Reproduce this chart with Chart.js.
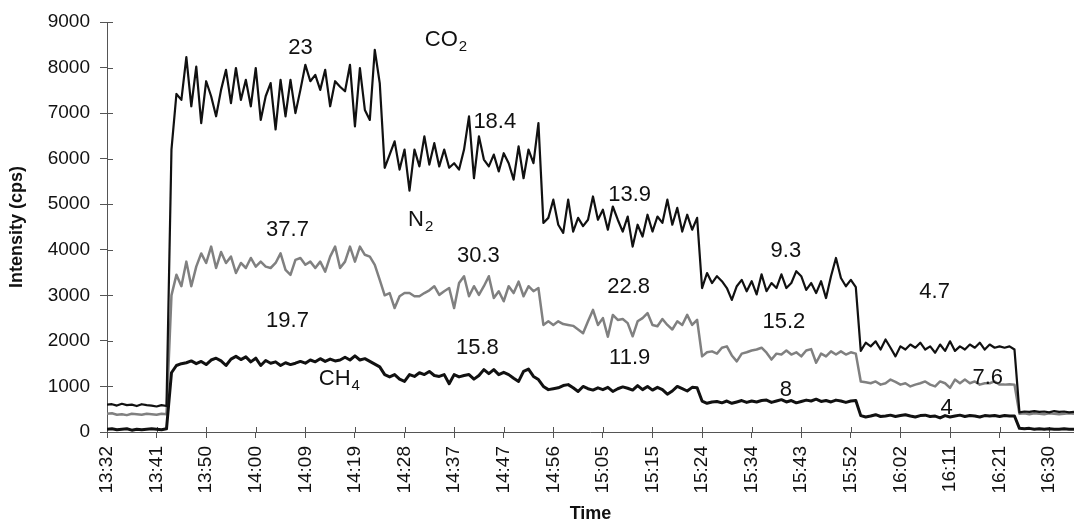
<!DOCTYPE html>
<html>
<head>
<meta charset="utf-8">
<script src="https://cdn.jsdelivr.net/npm/chart.js@4"></script>
<style>
    html, body { margin: 0; padding: 0; background: #fff; }
    #wrap { width: 1080px; height: 528px; }
</style>
</head>
<body>
<div id="wrap"><canvas id="chart" width="1080" height="528"></canvas></div>
<script>
(function () {
    'use strict';

    // x axis: one label every 10 samples
    var tickLabels = ['13:32', '13:41', '13:50', '14:00', '14:09', '14:19', '14:28', '14:37', '14:47', '14:56',
        '15:05', '15:15', '15:24', '15:34', '15:43', '15:52', '16:02', '16:11', '16:21', '16:30'];
    var samplesPerTick = 10;

    // Intensity (cps)
    var co2 = [
        600, 610, 580, 620, 590, 600, 570, 610, 590, 580, 560, 590, 570,
        6200,
        7420, 7290, 8230, 7150, 8020, 6780, 7700, 7370, 6930, 7510, 7950, 7220, 7990, 7290, 7730, 7150, 7990, 6850, 7370, 7660, 6640,
        7730, 6930, 7730, 7000, 7510, 8060, 7700, 7840, 7510, 7950, 7150, 7700, 7580, 7480, 8060, 6710, 7990, 7070, 6850, 8390, 7660,
        5800, 6090, 6380, 5760, 6200, 5300, 6200, 5830, 6490, 5870, 6340, 5830, 6200, 5800, 5900, 5760,
        6200, 6930, 5570, 6490, 5980, 5830, 6090, 5720, 6120, 5900, 5540, 6270, 5570, 6200, 5900, 6780,
        4590, 4700, 5100, 4550, 4370, 5100, 4400, 4700, 4520, 4660, 5170, 4660, 4880, 4440, 4950, 4660,
        4400, 4730, 4070, 4550, 4290, 4770, 4400, 4730, 4590, 5100, 4550, 4920, 4400, 4770, 4440, 4700,
        3160, 3490, 3270, 3420, 3310, 3160, 2900, 3200, 3340, 3090, 3310, 3020, 3460, 3090, 3270, 3160,
        3460, 3160, 3270, 3530, 3420, 3120, 3270, 3050, 3310, 2940, 3420, 3820, 3380, 3200, 3340, 3180,
        1780, 1960, 1880, 1990, 1810, 2030, 1850, 1660, 1880, 1810, 1920, 1850, 1960, 1810, 1880, 1740,
        1920, 1780, 1990, 1780, 1880, 1810, 1920, 1850, 1960, 1810, 1920, 1850, 1880, 1850, 1880, 1810,
        430, 450, 440, 460, 440, 450, 430, 460, 440, 450, 430, 440
    ];
    var n2 = [
        400, 410, 380, 390, 370, 400, 390, 380, 400, 390, 380, 400, 390,
        3000,
        3450, 3200, 3740, 3200, 3630, 3920, 3710, 4070, 3600, 3950, 3710, 3850, 3490, 3710, 3600, 3820, 3630, 3740, 3630, 3600, 3710,
        3920, 3560, 3450, 3780, 3820, 3670, 3740, 3600, 3740, 3520, 3850, 4070, 3600, 3740, 4070, 3740, 4070, 3890, 3850, 3670, 3340,
        3000, 3050, 2720, 2980, 3050, 3050, 2980, 2980, 3050, 3110, 3200, 3010, 3090, 3160, 2720, 3270,
        3420, 2980, 3200, 3010, 3200, 3420, 2940, 3090, 2870, 3200, 3050, 3300, 2980, 3200, 3090, 3160,
        2350, 2430, 2350, 2430, 2370, 2350, 2330, 2250, 2170, 2430, 2680, 2350, 2500, 2090, 2570, 2460,
        2480, 2390, 2100, 2430, 2500, 2610, 2350, 2320, 2480, 2350, 2250, 2430, 2350, 2570, 2350, 2460,
        1660, 1750, 1770, 1720, 1850, 1880, 1680, 1550, 1720, 1750, 1790, 1810, 1850, 1740, 1590, 1720,
        1700, 1790, 1700, 1750, 1660, 1790, 1820, 1520, 1720, 1660, 1770, 1700, 1770, 1700, 1750, 1720,
        1110, 1090, 1070, 1110, 1040, 1070, 1150, 1100, 1040, 1070, 1000, 1040, 1070, 1110, 1040, 1000,
        1110, 1070, 970, 1150, 1070, 1150, 1070, 1110, 1040, 1070, 1070, 1110, 1040, 1040, 1050, 1040,
        400, 410, 390, 410, 400, 390, 410, 400, 390, 400, 410, 400
    ];
    var ch4 = [
        60, 70, 50, 60, 70, 40, 60, 50, 60, 70, 60, 50, 70,
        1300,
        1460, 1500, 1520, 1560, 1500, 1550, 1480, 1580, 1620, 1560, 1460, 1600, 1660, 1590, 1650, 1540, 1620, 1460, 1570, 1510, 1540,
        1460, 1520, 1480, 1510, 1550, 1510, 1580, 1540, 1610, 1550, 1600, 1560, 1580, 1640, 1580, 1670, 1580, 1610, 1550, 1490, 1430,
        1260, 1210, 1260, 1160, 1110, 1260, 1220, 1300, 1260, 1330, 1240, 1220, 1260, 1060, 1260, 1210,
        1240, 1260, 1160, 1240, 1370, 1280, 1370, 1260, 1310, 1260, 1180, 1110, 1330, 1380, 1220, 1150,
        1000, 930, 950, 970, 1020, 1040, 970, 890, 1000, 950, 920, 970, 930, 980, 890, 950,
        990, 960, 920, 1020, 930, 1000, 920, 980, 930, 830, 900, 1000, 950, 900, 980, 970,
        680, 630, 660, 670, 640, 680, 630, 660, 690, 650, 680, 660, 690, 700, 650, 680,
        710, 660, 690, 640, 670, 700, 680, 720, 670, 690, 660, 700, 680, 650, 680, 690,
        360, 330, 350, 380, 340, 350, 370, 340, 360, 380, 350, 330, 360, 370, 340, 350,
        310, 360, 330, 350, 370, 340, 360, 350, 330, 360, 350, 360, 340, 360, 350, 350,
        80, 70, 80, 60, 70, 60, 70, 60, 60, 70, 60, 60
    ];

    // text written on the plot (x in samples, y in cps)
    var notes = [
        { text: '23', x: 39.0, y: 8430 },
        { text: 'CO', sub: '2', x: 64.1, y: 8610 },
        { text: '18.4', x: 78.2, y: 6800 },
        { text: '13.9', x: 105.4, y: 5210 },
        { text: 'N', sub: '2', x: 60.7, y: 4660 },
        { text: '37.7', x: 36.4, y: 4430 },
        { text: '30.3', x: 74.9, y: 3870 },
        { text: '22.8', x: 105.2, y: 3180 },
        { text: '19.7', x: 36.4, y: 2430 },
        { text: '15.8', x: 74.7, y: 1850 },
        { text: '11.9', x: 105.4, y: 1630 },
        { text: 'CH', sub: '4', x: 42.7, y: 1170 },
        { text: '9.3', x: 136.9, y: 3980 },
        { text: '15.2', x: 136.5, y: 2420 },
        { text: '8', x: 136.9, y: 930 },
        { text: '4.7', x: 166.9, y: 3080 },
        { text: '7.6', x: 177.6, y: 1190 },
        { text: '4', x: 169.3, y: 520 }
    ];

    var FONT = '"Liberation Sans", Arial, sans-serif';
    var AXIS = '#555';

    function points(values) {
        return values.map(function (v, i) { return { x: i, y: v }; });
    }

    // ticks also cross into the plot, as in the original
    var crossTicks = {
        id: 'crossTicks',
        beforeDatasetsDraw: function (chart) {
            var ctx = chart.ctx, xs = chart.scales.x, ys = chart.scales.y, a = chart.chartArea;
            ctx.save();
            ctx.strokeStyle = AXIS;
            ctx.lineWidth = 1;
            ctx.beginPath();
            xs.ticks.forEach(function (t) {
                var p = Math.round(xs.getPixelForValue(t.value)) + 0.5;
                ctx.moveTo(p, a.bottom);
                ctx.lineTo(p, a.bottom - 5);
            });
            ys.ticks.forEach(function (t) {
                var p = Math.round(ys.getPixelForValue(t.value)) + 0.5;
                ctx.moveTo(a.left, p);
                ctx.lineTo(a.left + 6, p);
            });
            ctx.stroke();
            ctx.restore();
        }
    };

    var notesPlugin = {
        id: 'notes',
        afterDatasetsDraw: function (chart) {
            var ctx = chart.ctx, xs = chart.scales.x, ys = chart.scales.y;
            ctx.save();
            ctx.fillStyle = '#111';
            ctx.textBaseline = 'middle';
            notes.forEach(function (n) {
                var px = xs.getPixelForValue(n.x), py = ys.getPixelForValue(n.y);
                ctx.font = '22px ' + FONT;
                if (n.sub) {
                    ctx.textAlign = 'left';
                    ctx.fillText(n.text, px, py);
                    var w = ctx.measureText(n.text).width;
                    ctx.font = '15px ' + FONT;
                    ctx.fillText(n.sub, px + w + 1, py + 7);
                } else {
                    ctx.textAlign = 'center';
                    ctx.fillText(n.text, px, py);
                }
            });
            ctx.restore();
        }
    };

    function line(label, values, color, width, order) {
        return {
            label: label,
            data: points(values),
            borderColor: color,
            borderWidth: width,
            borderJoinStyle: 'round',
            pointRadius: 0,
            tension: 0,
            fill: false,
            order: order
        };
    }

    new Chart(document.getElementById('chart'), {
        type: 'line',
        data: {
            datasets: [
                line('CO2', co2, '#111', 2.2, 0),
                line('CH4', ch4, '#111', 3, 1),
                line('N2', n2, '#808080', 2.5, 2)
            ]
        },
        options: {
            responsive: false,
            animation: false,
            devicePixelRatio: 1,
            layout: { padding: { top: 22, right: 0, left: 0, bottom: 0 } },
            plugins: { legend: { display: false }, tooltip: { enabled: false } },
            scales: {
                x: {
                    type: 'linear',
                    min: 0,
                    max: co2.length - 1,
                    afterBuildTicks: function (s) {
                        s.ticks = tickLabels.map(function (t, j) { return { value: j * samplesPerTick }; });
                    },
                    afterFit: function (s) { s.height = 96; },
                    grid: { drawOnChartArea: false, drawTicks: true, tickLength: 6, color: AXIS },
                    border: { color: AXIS, width: 1 },
                    ticks: {
                        autoSkip: false,
                        minRotation: 90,
                        maxRotation: 90,
                        padding: 8,
                        color: '#111',
                        font: { size: 19, family: FONT },
                        callback: function (v, i) { return tickLabels[i]; }
                    },
                    title: {
                        display: true,
                        text: 'Time',
                        color: '#111',
                        font: { size: 18, weight: 'bold', family: FONT },
                        padding: { top: 0, bottom: 3 }
                    }
                },
                y: {
                    min: 0,
                    max: 9000,
                    afterFit: function (s) { s.width = 107; },
                    grid: { drawOnChartArea: false, drawTicks: true, tickLength: 7, color: AXIS },
                    border: { color: AXIS, width: 1 },
                    ticks: {
                        stepSize: 1000,
                        padding: 10,
                        color: '#111',
                        font: { size: 19, family: FONT },
                        callback: function (v) { return String(v); }
                    },
                    title: {
                        display: true,
                        text: 'Intensity (cps)',
                        color: '#111',
                        font: { size: 18, weight: 'bold', family: FONT },
                        padding: { top: 6, bottom: 0 }
                    }
                }
            }
        },
        plugins: [crossTicks, notesPlugin]
    });
})();
</script>
</body>
</html>
